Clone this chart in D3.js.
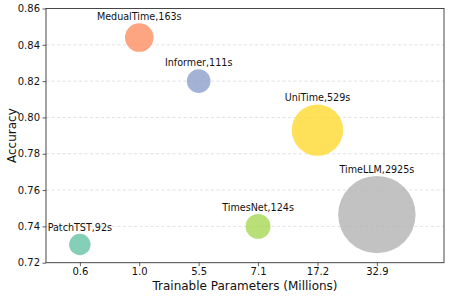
<!DOCTYPE html>
<html><head><meta charset="utf-8">
<script src="https://cdn.jsdelivr.net/npm/d3@7"></script>
<style>body{margin:0;background:#fff}svg{display:block;font-family:"DejaVu Sans",sans-serif}</style>
</head><body><svg id="c" width="449" height="297"></svg>
<script>
const models = ["PatchTST","MedualTime","Informer","TimesNet","UniTime","TimeLLM"];
const paramLabels = ["0.6","1.0","5.5","7.1","17.2","32.9"];
const accuracy = [0.730,0.844,0.820,0.740,0.793,0.7465];
const trainTimes = [92,163,111,124,529,2925];
const colors = ["#66c2a5","#fc8d62","#8da0cb","#a6d854","#ffd92f","#b3b3b3"];
const yTicks = [0.72,0.74,0.76,0.78,0.80,0.82,0.84,0.86];

const svg = d3.select("#c");
const m = {l:46, r:5, t:8.5, b:34.3};
const W = 449, H = 297;
const x = d3.scaleLinear().domain([-0.57, 6.13]).range([m.l, W - m.r]);
const y = d3.scaleLinear().domain([0.72, 0.86]).range([H - m.b, m.t]);
const r = d3.scaleSqrt().domain([0, 1200]).range([0, 38.7]).clamp(true);

// grid
svg.append("g").selectAll("line").data(yTicks.slice(1,-1)).join("line")
  .attr("x1", m.l).attr("x2", W - m.r)
  .attr("y1", d => y(d)).attr("y2", d => y(d))
  .attr("stroke", "#d9d9d9").attr("stroke-width", 0.8).attr("stroke-dasharray", "3,2.5");

// bubbles
const data = models.map((n,i)=>({n, i, acc:accuracy[i], t:trainTimes[i], c:colors[i]}));
svg.append("g").selectAll("circle").data(data).join("circle")
  .attr("cx", d => x(d.i)).attr("cy", d => y(d.acc)).attr("r", d => r(d.t))
  .attr("fill", d => d.c).attr("fill-opacity", 0.8);

svg.append("g").selectAll("text").data(data).join("text")
  .attr("x", d => x(d.i)).attr("y", d => y(d.acc) - r(d.t) - 3)
  .attr("text-anchor", "middle").attr("font-size", 9.6).attr("fill", "#111")
  .text(d => `${d.n},${d.t}s`);

// axes
const xAxis = d3.axisBottom(x).tickValues(d3.range(paramLabels.length)).tickFormat(i => paramLabels[i]).tickSize(3.5).tickPadding(2);
const yAxis = d3.axisLeft(y).tickValues(yTicks).tickFormat(d3.format(".2f")).tickSize(3.5).tickPadding(2.5);
const gx = svg.append("g").attr("transform", `translate(0,${H - m.b})`).call(xAxis);
const gy = svg.append("g").attr("transform", `translate(${m.l},0)`).call(yAxis);
[gx, gy].forEach(g => {
  g.select(".domain").remove();
  g.selectAll(".tick line").attr("stroke", "#333").attr("stroke-width", 0.8);
  g.selectAll(".tick text").attr("font-size", 10).attr("fill", "#111").attr("font-family", "DejaVu Sans");
});
// frame
svg.append("rect").attr("x", m.l).attr("y", m.t).attr("width", W - m.r - m.l).attr("height", H - m.b - m.t)
  .attr("fill", "none").attr("stroke", "#333").attr("stroke-width", 0.9);

svg.append("text").attr("x", (m.l + W - m.r)/2).attr("y", 290)
  .attr("text-anchor", "middle").attr("font-size", 12).attr("fill", "#111").text("Trainable Parameters (Millions)");
svg.append("text").attr("transform", `translate(16,${(m.t + H - m.b)/2}) rotate(-90)`)
  .attr("text-anchor", "middle").attr("font-size", 12).attr("fill", "#111").text("Accuracy");
</script></body></html>
